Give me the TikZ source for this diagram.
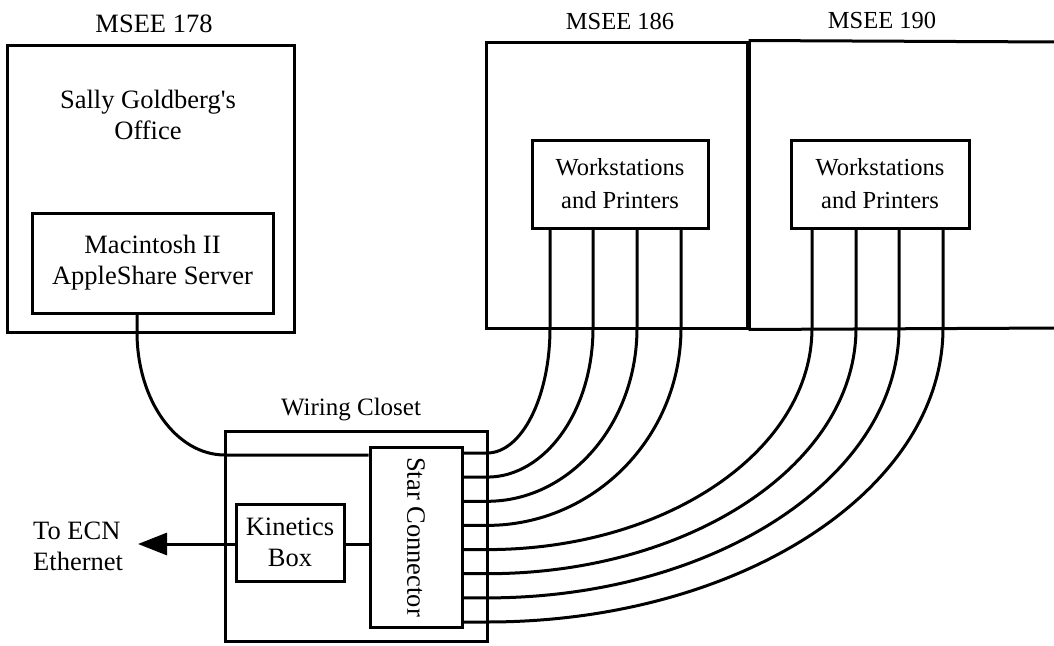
\documentclass[tikz,border=0pt]{standalone}
\usepackage{fontspec}
\setmainfont{Liberation Serif}[Ligatures=TeXOff]
\usetikzlibrary{arrows.meta,calc}
\begin{document}
\begin{tikzpicture}[x=1pt,y=-1pt,
  box/.style={draw, line width=3pt, inner sep=0pt},
  wire/.style={line width=3pt},
  lbl/.style={font=\fontsize{25}{31}\selectfont, align=center, inner sep=0pt},
  lbll/.style={font=\fontsize{26.5}{31}\selectfont, align=center, inner sep=0pt},
  lblr/.style={font=\fontsize{24.5}{33}\selectfont, align=center, inner sep=0pt}]
\useasboundingbox (0,0) rectangle (1054,645);
% rooms
\node[box, minimum width=287pt, minimum height=287pt] (r178) at (150.5,188.5) {};
\node[box, minimum width=261pt, minimum height=286pt] (r186) at (616.5,185) {};
\draw[wire] (r186.north east) -- (1060,42);
\draw[wire] (r186.south east) -- (1060,328);
\draw[line width=4.5pt] (r186.north east) -- (r186.south east);
\node[lbll] (t178) at (154,24) {MSEE 178};
\node[lblr] (t186) at (620,21) {MSEE 186};
\node[lblr] (t190) at (882,20) {MSEE 190};
\node[lbll] (sally) at (148,115) {Sally Goldberg's\\Office};
% equipment
\node[box, minimum width=241pt, minimum height=100pt, lbll] (mac) at (152.5,263) {Macintosh II\\AppleShare Server};
\node[box, minimum width=176pt, minimum height=88pt, lblr] (ws1) at (620,184) {Workstations\\and Printers};
\node[box, minimum width=178pt, minimum height=88pt, lblr] (ws2) at (880,184) {Workstations\\and Printers};
% wiring closet
\node[box, minimum width=262pt, minimum height=210pt] (closet) at (356,536) {};
\node[lbl] (tcloset) at (351,410) {Wiring Closet};
\node[box, minimum width=92pt, minimum height=180pt] (star) at (416,537) {};
\node[lbll, rotate=-90] (tstar) at (star.center) {Star Connector};
\node[box, minimum width=108pt, minimum height=77pt, lbll] (kin) at (290,542.5) {Kinetics\\Box};
\node[lbll, align=left, anchor=west] (ecn) at (33,546) {To ECN\\Ethernet};
\coordinate (tip) at (138,544);
% connectors
\draw[wire] (kin.east |- 0,544) -- (star.west |- 0,544);
\draw[wire, -{Triangle[length=29pt,width=22pt]}] (kin.west |- 0,544) -- (tip);
\draw[wire] (mac.south -| 137,0) -- (137,332)
  .. controls (137,400) and (176,455) .. (225,455) -- (star.west |- 0,455);
\foreach \xv/\yh/\ws in {550/453/ws1, 593/477.1/ws1, 637/501.3/ws1, 681/525.4/ws1,
                          812/549.6/ws2, 856/573.7/ws2, 899/597.9/ws2, 943/622/ws2} {
  \draw[wire] (\ws.south -| \xv,0) -- (\xv,328)
    .. controls (\xv,{328+0.5523*(\yh-328)}) and ({487+0.5523*(\xv-487)},\yh) .. (487,\yh)
    -- (star.east |- 0,\yh);
}
\end{tikzpicture}
\end{document}
